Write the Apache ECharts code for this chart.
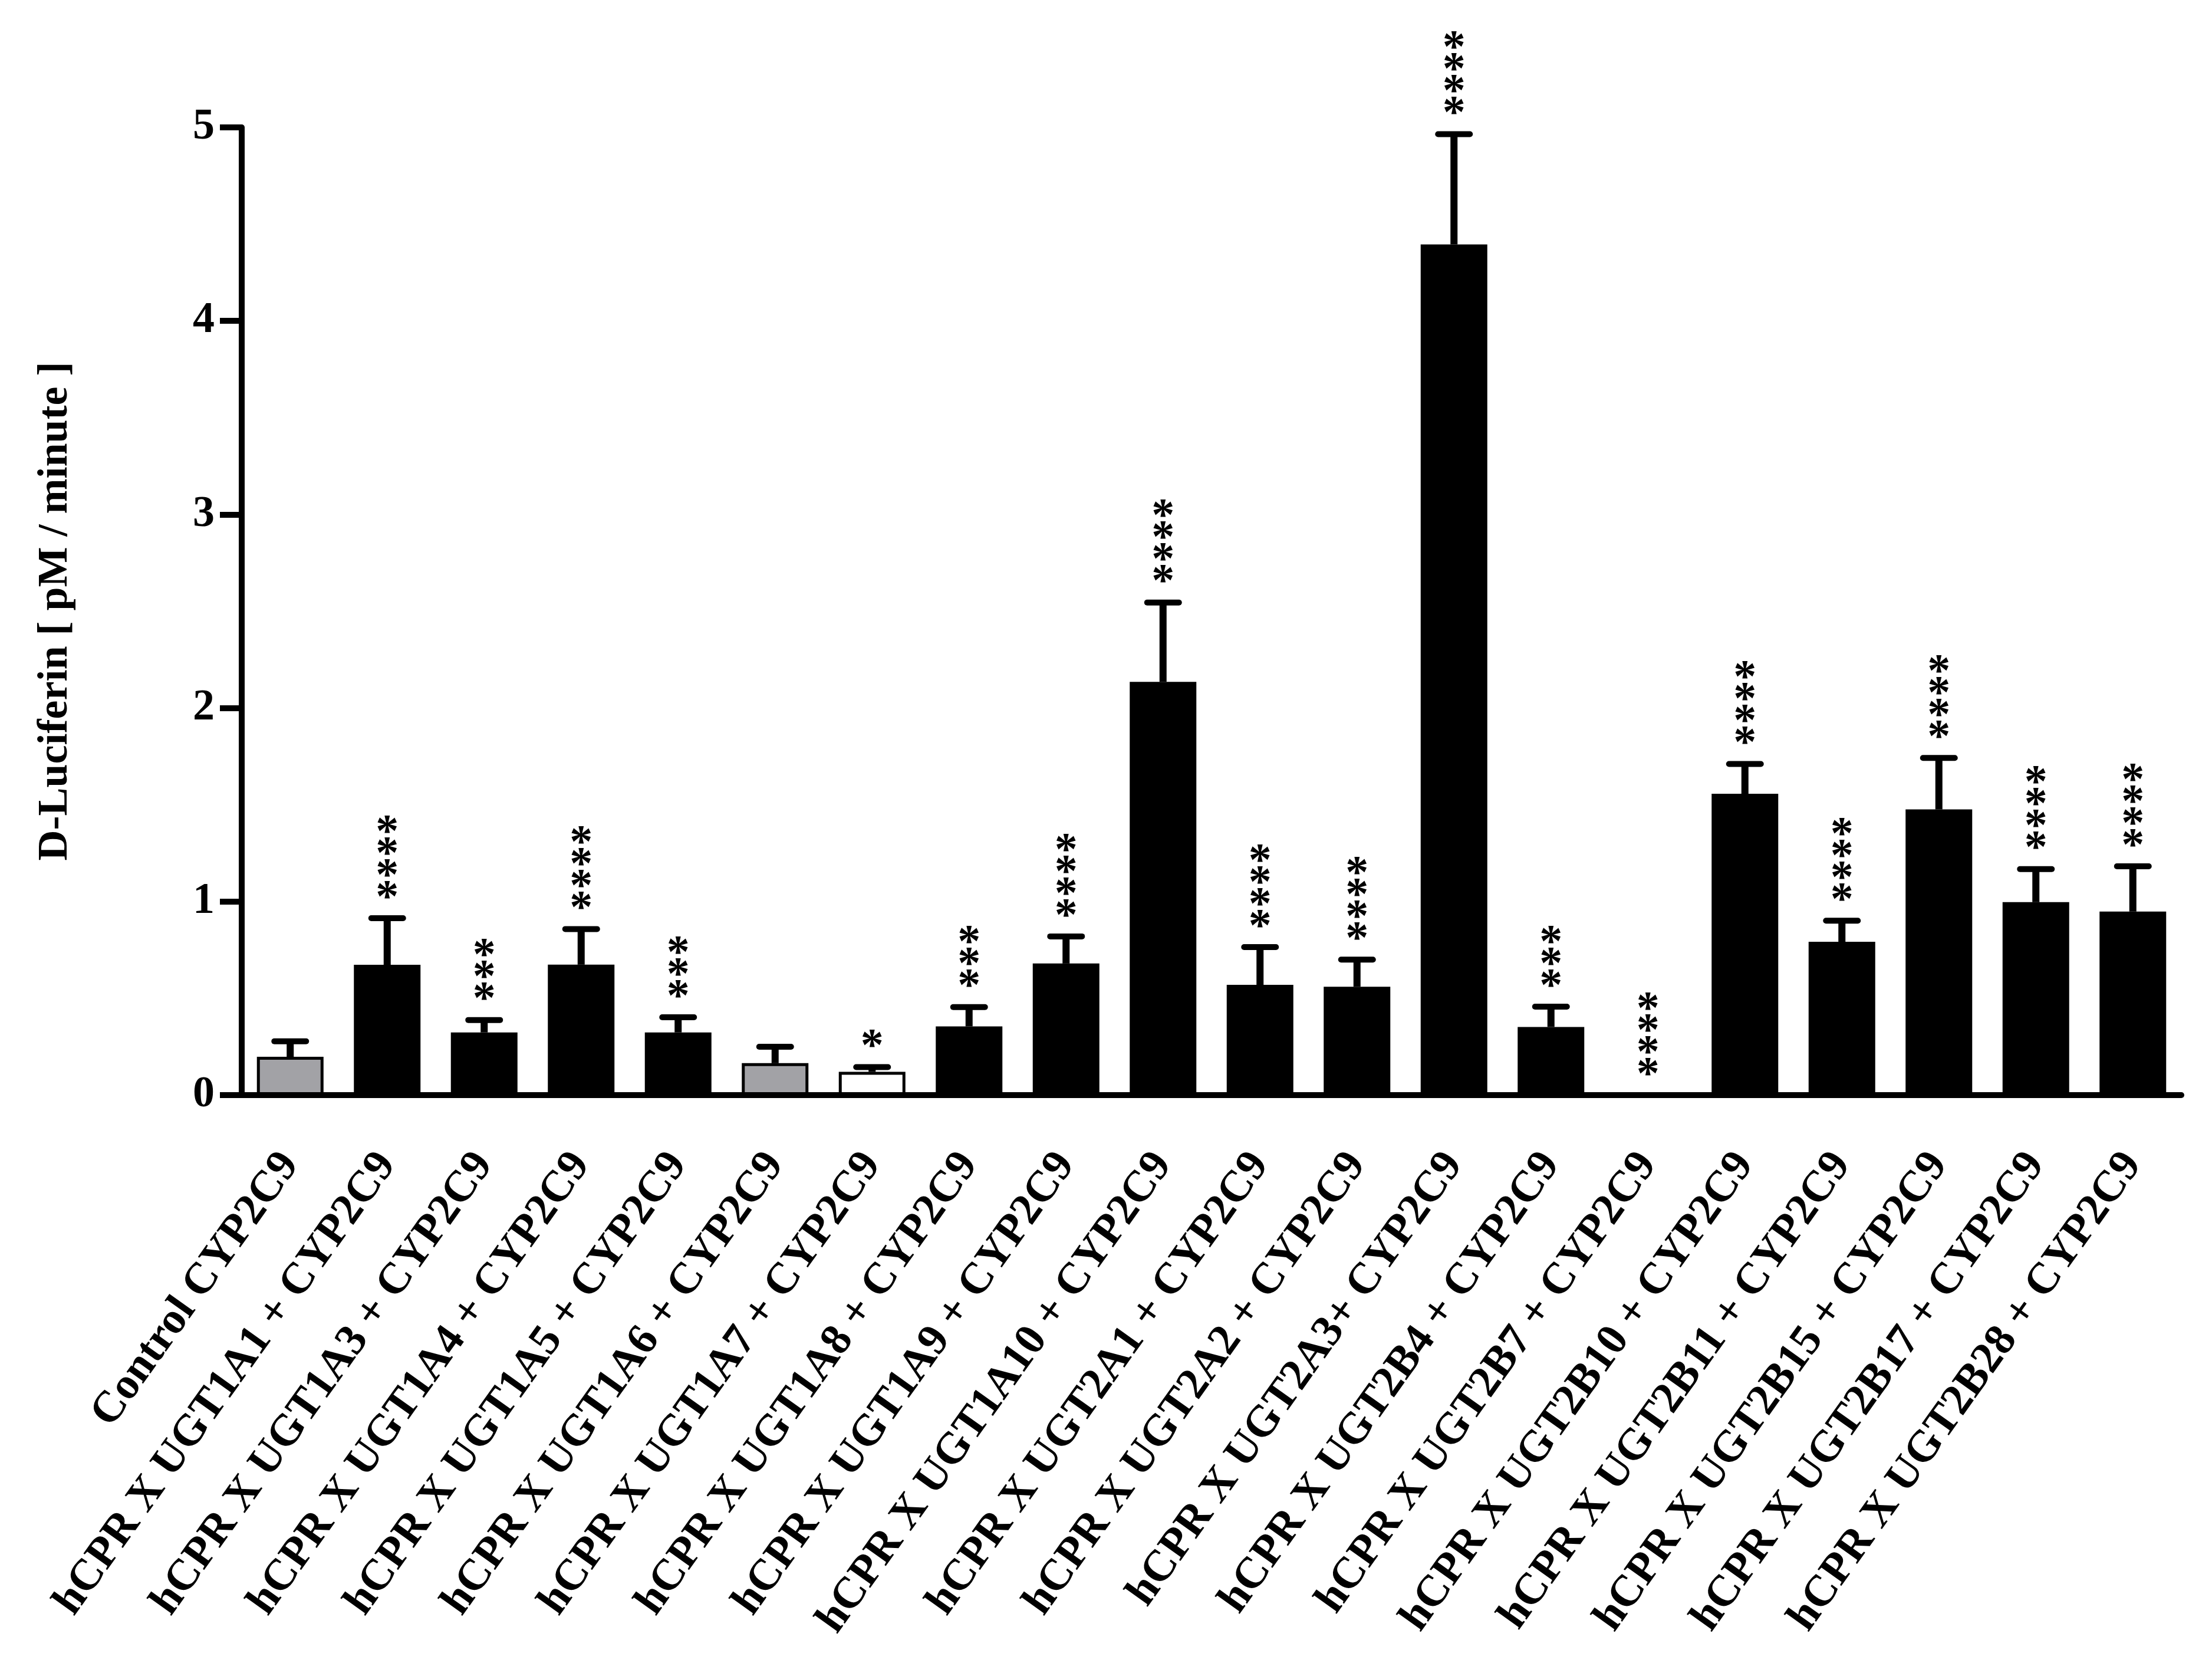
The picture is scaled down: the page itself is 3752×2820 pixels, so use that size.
<!DOCTYPE html>
<html>
<head>
<meta charset="utf-8">
<script src="https://cdn.jsdelivr.net/npm/echarts@6/dist/echarts.min.js"></script>
<style>
  html, body { margin: 0; padding: 0; background: #fff; }
  #chart { width: 3752px; height: 2820px; }
</style>
</head>
<body>
<div id="chart"></div>
<script>
var categories = [
  'Control CYP2C9',
  'hCPR X UGT1A1 + CYP2C9',
  'hCPR X UGT1A3 + CYP2C9',
  'hCPR X UGT1A4 + CYP2C9',
  'hCPR X UGT1A5 + CYP2C9',
  'hCPR X UGT1A6 + CYP2C9',
  'hCPR X UGT1A7 + CYP2C9',
  'hCPR X UGT1A8 + CYP2C9',
  'hCPR X UGT1A9 + CYP2C9',
  'hCPR X UGT1A10 + CYP2C9',
  'hCPR X UGT2A1 + CYP2C9',
  'hCPR X UGT2A2 + CYP2C9',
  'hCPR X UGT2A3+ CYP2C9',
  'hCPR X UGT2B4 + CYP2C9',
  'hCPR X UGT2B7 + CYP2C9',
  'hCPR X UGT2B10 + CYP2C9',
  'hCPR X UGT2B11 + CYP2C9',
  'hCPR X UGT2B15 + CYP2C9',
  'hCPR X UGT2B17 + CYP2C9',
  'hCPR X UGT2B28 + CYP2C9'
];
// mean D-luciferin, pM / minute
var means = [0.198, 0.673, 0.324, 0.674, 0.324, 0.165, 0.12, 0.355, 0.68, 2.135,
             0.57, 0.56, 4.395, 0.352, 0, 1.557, 0.792, 1.476, 0.997, 0.948];
// upper error (SEM)
var errs = [0.08, 0.241, 0.064, 0.184, 0.078, 0.085, 0.025, 0.1, 0.14, 0.41,
            0.195, 0.14, 0.57, 0.105, 0, 0.154, 0.109, 0.266, 0.171, 0.234];
var stars = ['', '****', '***', '****', '***', '', '*', '***', '****', '****',
             '****', '****', '****', '***', '****', '****', '****', '****', '****', '****'];
var barKind = ['gray', 'black', 'black', 'black', 'black', 'gray', 'white', 'black', 'black', 'black',
               'black', 'black', 'black', 'black', 'black', 'black', 'black', 'black', 'black', 'black'];
var yTicks = [0, 1, 2, 3, 4, 5];

var kindStyle = {
  gray: { color: '#a2a2a6', borderColor: '#000', borderWidth: 5 },
  white: { color: '#fff', borderColor: '#000', borderWidth: 5 },
  black: { color: '#000', borderWidth: 0 }
};

var FONT = '"Liberation Serif", "Times New Roman", serif';

var chart = echarts.init(document.getElementById('chart'), null, { renderer: 'canvas', devicePixelRatio: 1 });

var option = {
  backgroundColor: '#fff',
  animation: false,
  grid: { left: 410, right: 52, top: 216, bottom: 963, containLabel: false },
  xAxis: {
    type: 'category',
    data: categories,
    boundaryGap: true,
    axisLine: { lineStyle: { color: '#000', width: 10 } },
    axisTick: { alignWithLabel: true, length: 35, lineStyle: { color: '#000', width: 10 } },
    axisLabel: {
      interval: 0, rotate: 54.5, margin: 106,
      fontFamily: FONT, fontWeight: 'bold', fontSize: 75, color: '#000'
    }
  },
  yAxis: {
    type: 'value',
    min: yTicks[0], max: yTicks[yTicks.length - 1], interval: 1,
    name: 'D-Luciferin [ pM / minute ]',
    nameLocation: 'middle', nameGap: 280,
    nameTextStyle: { fontFamily: FONT, fontWeight: 'bold', fontSize: 72, color: '#000' },
    splitLine: { show: false },
    axisLine: { show: true, lineStyle: { color: '#000', width: 10 } },
    axisTick: { show: true, length: 37, lineStyle: { color: '#000', width: 10 } },
    axisLabel: { margin: 46, fontFamily: FONT, fontWeight: 'bold', fontSize: 74, color: '#000' }
  },
  series: [
    {
      type: 'bar',
      barWidth: 113,
      data: means.map(function (v, i) {
        return { value: v, itemStyle: kindStyle[barKind[i]] };
      })
    },
    {
      type: 'custom',
      z: 5,
      data: means.map(function (v, i) { return [i, v, errs[i]]; }),
      renderItem: function (params, api) {
        var i = params.dataIndex;
        var base = api.coord([api.value(0), api.value(1)]);
        var top = api.coord([api.value(0), api.value(1) + api.value(2)]);
        var kids = [];
        if (api.value(2) > 0) {
          kids.push({ type: 'line', shape: { x1: base[0], y1: base[1], x2: top[0], y2: top[1] },
            style: { stroke: '#000', lineWidth: 12 } });
          kids.push({ type: 'line', shape: { x1: top[0] - 27, y1: top[1], x2: top[0] + 27, y2: top[1] },
            style: { stroke: '#000', lineWidth: 10, lineCap: 'round' } });
        }
        if (stars[i]) {
          kids.push({ type: 'text', style: {
            text: stars[i].split('').join('\n'),
            x: top[0], y: top[1] - 14,
            align: 'center', verticalAlign: 'bottom',
            font: 'bold 78px ' + FONT, lineHeight: 37, fill: '#000'
          } });
        }
        return { type: 'group', children: kids };
      }
    }
  ]
};

chart.setOption(option);
</script>
</body>
</html>
